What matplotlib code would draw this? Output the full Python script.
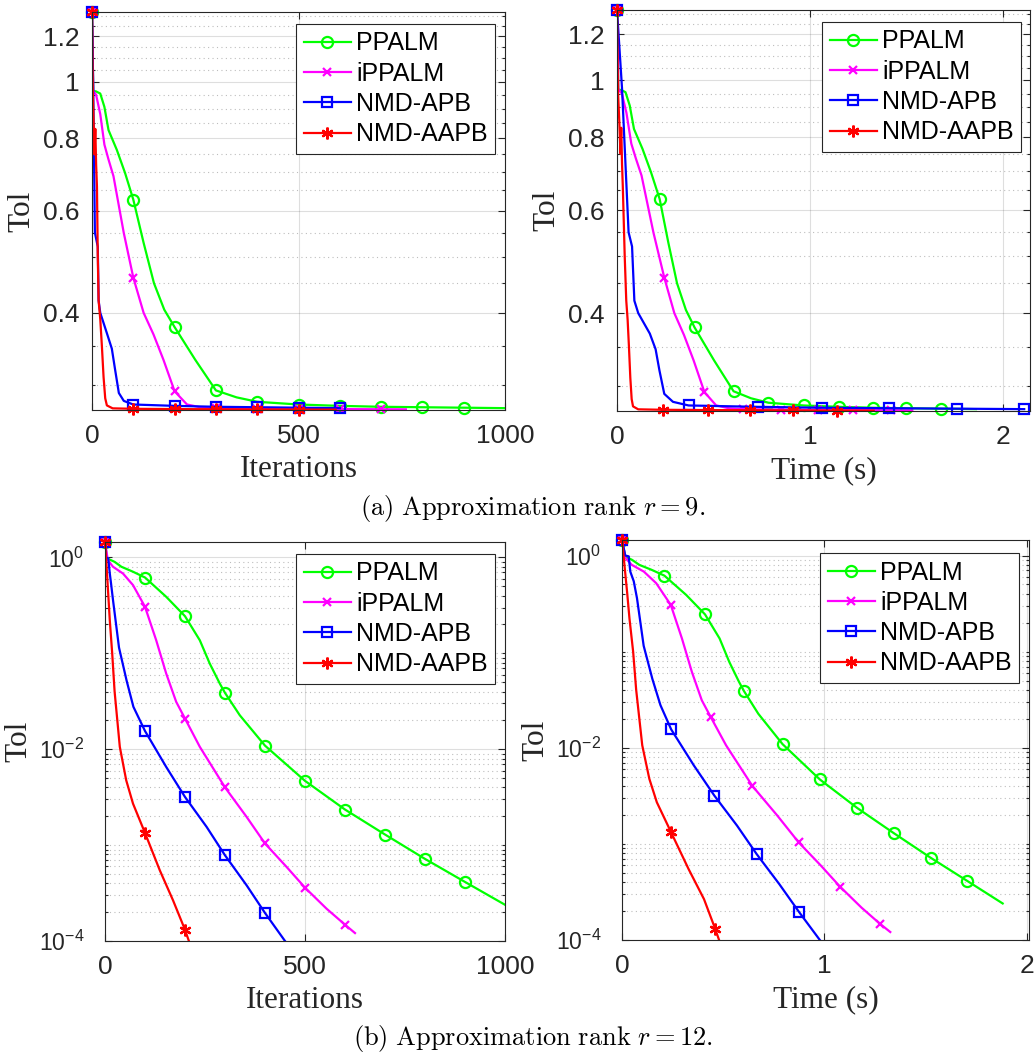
import numpy as np
import matplotlib
matplotlib.use('Agg')
import matplotlib.pyplot as plt
from matplotlib.ticker import FixedLocator, NullFormatter, FixedFormatter

plt.rcParams['mathtext.fontset'] = 'cm'
plt.rcParams['font.family'] = ['Liberation Sans', 'DejaVu Sans']

# ---------------- data: (a) rank r = 9 ----------------
a_pp_it = [0, 3, 10, 20, 30, 40, 60, 80, 100, 125, 150, 175, 200, 250, 300, 350, 400, 500, 600, 700, 800, 900, 999]
a_pp_tol = [1.32, 0.965, 0.963, 0.955, 0.906, 0.826, 0.764, 0.697, 0.627, 0.528, 0.45, 0.405, 0.378, 0.332, 0.294,
            0.286, 0.281, 0.278, 0.2765, 0.2755, 0.275, 0.2745, 0.274]
a_pp_time = [0, 0.007, 0.022, 0.044, 0.066, 0.088, 0.132, 0.176, 0.221, 0.266, 0.311, 0.357, 0.402, 0.503, 0.604,
             0.694, 0.785, 0.967, 1.15, 1.326, 1.497, 1.679, 1.86]

a_ip_it = [0, 3, 10, 20, 30, 40, 52, 77, 100, 125, 149, 173, 200, 230, 262, 300, 400, 500, 600, 700, 760]
a_ip_tol = [1.32, 0.965, 0.95, 0.88, 0.78, 0.735, 0.688, 0.549, 0.46, 0.40, 0.367, 0.332, 0.293, 0.278, 0.275,
            0.274, 0.2735, 0.2732, 0.273, 0.2728, 0.2727]
a_ip_time = [0, 0.007, 0.025, 0.049, 0.074, 0.098, 0.127, 0.189, 0.245, 0.297, 0.347, 0.397, 0.453, 0.514, 0.579,
             0.655, 0.85, 1.04, 1.225, 1.42, 1.53]

a_apb_it = [0, 3, 7, 14, 16, 20, 36, 48, 56, 65, 77, 100, 200, 300, 400, 500, 600]
a_apb_tol = [1.32, 0.97, 0.55, 0.52, 0.42, 0.40, 0.369, 0.347, 0.319, 0.291, 0.282, 0.278, 0.2765, 0.2755, 0.275,
             0.2745, 0.274]
a_apb_time = [0, 0.026, 0.06, 0.078, 0.09, 0.11, 0.17, 0.2, 0.22, 0.245, 0.29, 0.371, 0.729, 1.06, 1.41, 1.76, 2.11]

a_aapb_it = [0, 2, 4, 6, 8, 10, 12, 14, 16, 20, 24, 28, 32, 36, 50, 100, 200, 300, 400, 500, 590]
a_aapb_tol = [1.32, 0.96, 0.85, 0.75, 0.83, 0.72, 0.66, 0.5, 0.42, 0.39, 0.35, 0.31, 0.285, 0.277, 0.2738, 0.2733,
              0.273, 0.2728, 0.2726, 0.2725, 0.2724]
a_aapb_time = [0, 0.005, 0.012, 0.018, 0.022, 0.026, 0.03, 0.04, 0.048, 0.055, 0.062, 0.069, 0.076, 0.083, 0.11,
               0.24, 0.47, 0.69, 0.91, 1.14, 1.33]

# ---------------- data: (b) rank r = 12 ----------------
b_pp_it = [0, 5, 12, 24, 41, 70, 100, 153, 200, 237, 262, 287, 300, 337, 400, 500, 600, 700, 800, 900, 999]
b_pp_tol = [1.45, 0.98, 0.95, 0.9, 0.8, 0.71, 0.618, 0.389, 0.244, 0.137, 0.078, 0.0484, 0.0387, 0.0226, 0.0109,
            0.00468, 0.00235, 0.00129, 0.000718, 0.000413, 0.00024]
b_pp_time = [0, 0.016, 0.028, 0.05, 0.085, 0.146, 0.209, 0.317, 0.41, 0.482, 0.53, 0.578, 0.603, 0.673, 0.793,
             0.977, 1.163, 1.343, 1.524, 1.704, 1.88]

b_ip_it = [0, 7, 20, 45, 70, 100, 128, 153, 178, 200, 237, 300, 354, 400, 454, 500, 554, 600, 625]
b_ip_tol = [1.45, 0.94, 0.8, 0.68, 0.515, 0.306, 0.137, 0.0616, 0.0312, 0.0209, 0.0106, 0.004, 0.00197, 0.00104,
            0.000592, 0.00036, 0.000217, 0.000148, 0.000121]
b_ip_time = [0, 0.017, 0.048, 0.108, 0.169, 0.241, 0.296, 0.345, 0.394, 0.438, 0.514, 0.644, 0.767, 0.872, 0.983,
             1.076, 1.183, 1.273, 1.325]

b_apb_it = [0, 3, 8, 12, 15, 20, 35, 54, 71, 100, 153, 200, 254, 300, 354, 400, 450, 462]
b_apb_tol = [1.45, 1.0, 0.98, 0.68, 0.54, 0.36, 0.115, 0.052, 0.0277, 0.0155, 0.00654, 0.00318, 0.00155, 0.000783,
             0.000381, 0.000196, 0.0001, 0.0000868]
b_apb_time = [0, 0.016, 0.033, 0.041, 0.058, 0.074, 0.107, 0.15, 0.19, 0.243, 0.355, 0.456, 0.568, 0.665, 0.777,
              0.874, 0.977, 1.0]

b_aapb_it = [0, 4, 8, 12, 18, 24, 37, 53, 70, 100, 137, 170, 200, 212]
b_aapb_tol = [1.45, 0.8, 0.42, 0.22, 0.1, 0.04, 0.0106, 0.00475, 0.00271, 0.00134, 0.000546, 0.000266, 0.000131,
              0.0000938]
b_aapb_time = [0, 0.012, 0.025, 0.037, 0.055, 0.07, 0.1, 0.135, 0.172, 0.241, 0.329, 0.405, 0.46, 0.484]

names = ['PPALM', 'iPPALM', 'NMD-APB', 'NMD-AAPB']
colors = ['#00ff00', '#ff00ff', '#0000ff', '#ff0000']
markers = ['o', 'x', 's', (6, 2, 0)]
msizes = [8, 6, 7, 8.5]

a_top_ticks = [0.4, 0.6, 0.8, 1.0, 1.2]
a_top_labels = ['0.4', '0.6', '0.8', '1', '1.2']
b_ticks = [1e-4, 1e-2, 1e0]
b_labels = [r'$\mathregular{10^{-4}}$', r'$\mathregular{10^{-2}}$', r'$\mathregular{10^{0}}$']

fig = plt.figure(figsize=(10.35, 10.56), dpi=100)
W, H = 1035.0, 1056.0


def add_ax(l, r, t, b):
    return fig.add_axes([l / W, 1 - b / H, (r - l) / W, (b - t) / H])


ax_tl = add_ax(92, 505, 12, 410)
ax_tr = add_ax(617, 1030, 10, 411)
ax_bl = add_ax(105, 505, 542, 941)
ax_br = add_ax(622, 1029, 540, 940)

panels = [
    (ax_tl, [(a_pp_it, a_pp_tol), (a_ip_it, a_ip_tol), (a_apb_it, a_apb_tol), (a_aapb_it, a_aapb_tol)],
     [a_pp_it, a_ip_it, a_apb_it, a_aapb_it], 'a', 'Iterations'),
    (ax_tr, [(a_pp_time, a_pp_tol), (a_ip_time, a_ip_tol), (a_apb_time, a_apb_tol), (a_aapb_time, a_aapb_tol)],
     [a_pp_it, a_ip_it, a_apb_it, a_aapb_it], 'a', 'Time (s)'),
    (ax_bl, [(b_pp_it, b_pp_tol), (b_ip_it, b_ip_tol), (b_apb_it, b_apb_tol), (b_aapb_it, b_aapb_tol)],
     [b_pp_it, b_ip_it, b_apb_it, b_aapb_it], 'b', 'Iterations'),
    (ax_br, [(b_pp_time, b_pp_tol), (b_ip_time, b_ip_tol), (b_apb_time, b_apb_tol), (b_aapb_time, b_aapb_tol)],
     [b_pp_it, b_ip_it, b_apb_it, b_aapb_it], 'b', 'Time (s)'),
]

tick_color = '#262626'
legend_pos = {id(ax_tl): (296, 24), id(ax_tr): (822, 22), id(ax_bl): (296, 554), id(ax_br): (820, 553)}
ylab_x = {id(ax_tl): -0.169, id(ax_tr): -0.169, id(ax_bl): -0.215, id(ax_br): -0.212}

for ax, curves, its, which, xlabel in panels:
    handles = []
    for (x, y), it, name, c, m, ms in zip(curves, its, names, colors, markers, msizes):
        mk = [i for i, v in enumerate(it) if v % 100 == 0]
        mfc = 'none' if m in ('o', 's') else c
        ax.plot(x, y, color=c, lw=1.6, clip_on=True)
        ax.plot(x, y, ls='none', marker=m, markevery=mk, ms=ms, mew=1.6, mfc=mfc, mec=c, clip_on=False)
        h, = ax.plot([], [], color=c, lw=1.6, marker=m, ms=ms, mew=1.6, mfc=mfc, mec=c, label=name)
        handles.append(h)
    ax.set_yscale('log')
    if which == 'a':
        ax.set_ylim(0.272, 1.32)
        ax.yaxis.set_major_locator(FixedLocator(a_top_ticks))
        ax.yaxis.set_major_formatter(FixedFormatter(a_top_labels))
        minors = [round(0.30 + 0.05 * k, 2) for k in range(21)]
        minors = [v for v in minors if all(abs(v - t) > 1e-6 for t in a_top_ticks)]
        ax.yaxis.set_minor_locator(FixedLocator(minors))
        ax.yaxis.set_minor_formatter(NullFormatter())
        ypad, ysize = 9, 19
    else:
        ax.set_ylim(1e-4, 1.45)
        ax.yaxis.set_major_locator(FixedLocator(b_ticks))
        ax.yaxis.set_major_formatter(FixedFormatter(b_labels))
        minors = [k * 10.0 ** e for e in range(-5, 1) for k in range(1, 10)]
        minors = [v for v in minors if all(abs(v / t - 1) > 1e-6 for t in b_ticks)]
        ax.yaxis.set_minor_locator(FixedLocator(minors))
        ax.yaxis.set_minor_formatter(NullFormatter())
        ypad, ysize = 15, 16.5
    if xlabel == 'Iterations':
        ax.set_xlim(0, 1000)
        ax.set_xticks([0, 500, 1000])
        ax.set_xticklabels(['0', '500', '1000'])
    else:
        ax.set_xlim(0, 2.14 if which == 'a' else 2.01)
        ax.set_xticks([0, 1, 2])
        ax.set_xticklabels(['0', '1', '2'])
    ax.grid(True, which='major', color='#262626', alpha=0.15, lw=0.8, ls='-')
    ax.grid(True, which='minor', axis='y', color='#262626', alpha=0.3, lw=0.8, ls=(0, (1, 3)))
    ax.tick_params(which='both', direction='in', top=True, right=True, colors=tick_color, width=0.8)
    ax.tick_params(which='major', length=5)
    ax.tick_params(which='minor', length=2.5)
    ax.tick_params(axis='x', pad=10, labelsize=19)
    ax.tick_params(axis='y', pad=ypad, labelsize=ysize)
    for s in ax.spines.values():
        s.set_color(tick_color)
        s.set_linewidth(0.8)
    ax.set_xlabel(xlabel, fontsize=22.5, family=['Liberation Serif'], va='center', color='#262626')
    ax.set_ylabel('Tol', fontsize=22.5, family=['Liberation Serif'], va='center', color='#262626')
    ax.yaxis.set_label_coords(ylab_x[id(ax)], 0.5)
    bb = ax.get_position()
    ax.xaxis.set_label_coords(0.5, -(60 / H) / bb.height)
    lx, ly = legend_pos[id(ax)]
    leg = ax.legend(handles=handles, loc='upper left', bbox_to_anchor=(lx / W, 1 - ly / H),
                    bbox_transform=fig.transFigure, borderaxespad=0, fontsize=18, frameon=True,
                    fancybox=False, handlelength=1.9, handletextpad=0.2, labelspacing=0.25, borderpad=0.3)
    leg.get_frame().set_edgecolor('#262626')
    leg.get_frame().set_linewidth(0.8)
    leg.get_frame().set_alpha(1)

fig.text(533 / W, 1 - 508 / H, r'$\mathrm{(a)\ Approximation\ rank\ }r=9.$', ha='center', va='center',
         fontsize=19)
fig.text(533 / W, 1 - 1039 / H, r'$\mathrm{(b)\ Approximation\ rank\ }r=12.$', ha='center', va='center',
         fontsize=19)

fig.savefig('out.png', dpi=100)
